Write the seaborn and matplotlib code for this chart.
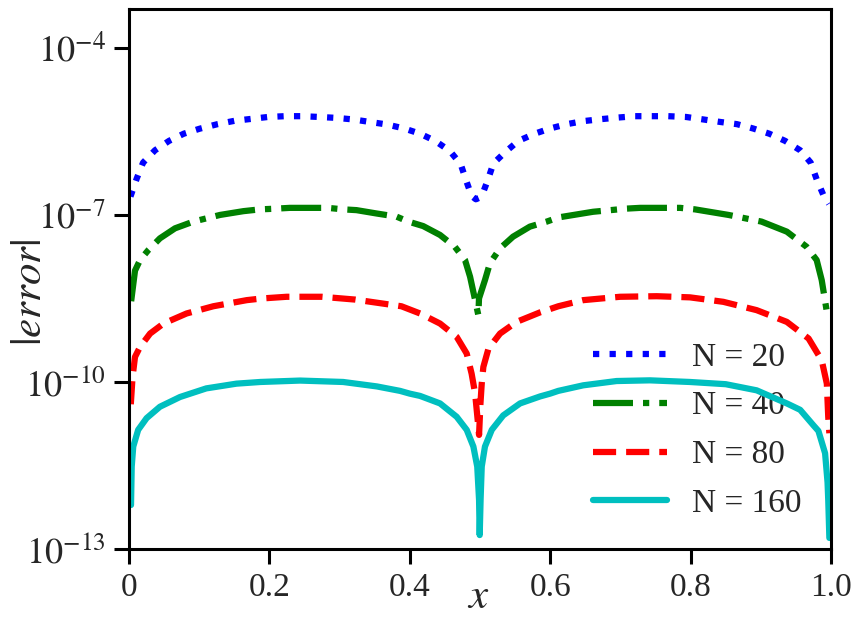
import matplotlib
matplotlib.use("Agg")
import matplotlib.pyplot as plt
import matplotlib.ticker as mticker
import seaborn as sns

# ---- data (x, |error|) ----
x_n20 = [0.002, 0.011, 0.020, 0.037, 0.057, 0.078, 0.101, 0.126, 0.150, 0.174, 0.198,
         0.222, 0.246, 0.271, 0.296, 0.3195, 0.343, 0.367, 0.392, 0.4145, 0.436, 0.457,
         0.4725, 0.480, 0.488, 0.494, 0.502, 0.511, 0.519, 0.536, 0.5546, 0.578, 0.5997,
         0.6235, 0.647, 0.672, 0.697, 0.721, 0.7446, 0.768, 0.7935, 0.818, 0.842, 0.866,
         0.889, 0.912, 0.9345, 0.956, 0.971, 0.9795, 0.989, 0.997]
err_n20 = [2.14e-7, 4.52e-7, 8.71e-7, 1.45e-6, 2.14e-6, 2.88e-6, 3.55e-6, 4.27e-6, 4.90e-6,
           5.31e-6, 5.75e-6, 5.94e-6, 5.94e-6, 5.75e-6, 5.53e-6, 5.19e-6, 4.68e-6, 4.22e-6,
           3.57e-6, 2.88e-6, 2.14e-6, 1.41e-6, 8.13e-7, 4.22e-7, 2.19e-7, 1.91e-7, 2.11e-7,
           4.22e-7, 8.41e-7, 1.35e-6, 2.14e-6, 2.88e-6, 3.57e-6, 4.27e-6, 4.84e-6, 5.25e-6,
           5.62e-6, 5.94e-6, 5.94e-6, 5.94e-6, 5.75e-6, 5.19e-6, 4.68e-6, 4.27e-6, 3.57e-6,
           2.88e-6, 2.14e-6, 1.45e-6, 8.71e-7, 4.37e-7, 2.29e-7, 1.58e-7]

x_n40 = [0.003, 0.0085, 0.0157, 0.0275, 0.044, 0.0655, 0.0916, 0.1296, 0.163, 0.1866,
         0.2056, 0.229, 0.283, 0.305, 0.324, 0.353, 0.381, 0.398, 0.419, 0.443, 0.464,
         0.4786, 0.4858, 0.493, 0.4976, 0.4985, 0.507, 0.514, 0.5285, 0.547, 0.571, 0.595,
         0.6116, 0.661, 0.709, 0.728, 0.785, 0.806, 0.854, 0.901, 0.937, 0.965, 0.9795,
         0.9867, 0.9945]
err_n40 = [2.82e-9, 1.0e-8, 1.55e-8, 2.34e-8, 3.80e-8, 5.75e-8, 7.59e-8, 1.0e-7, 1.17e-7,
           1.26e-7, 1.29e-7, 1.34e-7, 1.34e-7, 1.26e-7, 1.22e-7, 1.06e-7, 9.33e-8, 7.59e-8,
           6.31e-8, 4.37e-8, 2.69e-8, 1.55e-8, 7.76e-9, 2.95e-9, 1.58e-9, 3.16e-9, 6.76e-9,
           1.35e-8, 2.51e-8, 4.07e-8, 6.17e-8, 7.59e-8, 9.02e-8, 1.14e-7, 1.30e-7, 1.34e-7,
           1.34e-7, 1.26e-7, 1.0e-7, 7.59e-8, 5.01e-8, 2.69e-8, 1.55e-8, 6.76e-9, 1.66e-9]

x_n80 = [0.0025, 0.005, 0.0085, 0.0157, 0.03, 0.049, 0.082, 0.12, 0.1677, 0.189, 0.2246,
         0.2745, 0.322, 0.372, 0.388, 0.4145, 0.443, 0.4667, 0.481, 0.488, 0.493, 0.4966,
         0.4986, 0.5005, 0.5024, 0.5047, 0.512, 0.5285, 0.552, 0.5855, 0.5997, 0.6115,
         0.647, 0.6994, 0.7517, 0.799, 0.8466, 0.894, 0.937, 0.968, 0.9867, 0.994, 0.996,
         0.9976]
err_n80 = [3.98e-11, 1.23e-10, 2.82e-10, 4.27e-10, 7.41e-10, 1.12e-9, 1.70e-9, 2.29e-9,
           2.95e-9, 3.16e-9, 3.39e-9, 3.39e-9, 3.02e-9, 2.45e-9, 2.29e-9, 1.70e-9, 1.12e-9,
           6.46e-10, 3.24e-10, 1.41e-10, 6.17e-11, 2.09e-11, 1.12e-11, 3.98e-11, 9.33e-11,
           1.86e-10, 3.98e-10, 7.41e-10, 1.20e-9, 1.78e-9, 2.04e-9, 2.29e-9, 2.95e-9,
           3.39e-9, 3.47e-9, 3.31e-9, 2.75e-9, 1.95e-9, 1.20e-9, 6.03e-10, 2.45e-10,
           9.33e-11, 2.34e-11, 1.20e-11]

x_n160 = [0.0028, 0.0038, 0.006, 0.013, 0.025, 0.044, 0.0726, 0.11, 0.153, 0.187, 0.2436,
          0.305, 0.353, 0.386, 0.400, 0.4145, 0.443, 0.4667, 0.481, 0.4905, 0.496, 0.4986,
          0.4995, 0.5008, 0.5024, 0.507, 0.5167, 0.533, 0.557, 0.5855, 0.5997, 0.6115,
          0.647, 0.6945, 0.742, 0.799, 0.85, 0.894, 0.937, 0.956, 0.975, 0.982, 0.9915,
          0.995, 0.996, 0.9976]
err_n160 = [6.17e-13, 3.02e-12, 6.92e-12, 1.38e-11, 2.24e-11, 3.59e-11, 5.37e-11, 7.67e-11,
            9.33e-11, 1.0e-10, 1.06e-10, 1.0e-10, 8.32e-11, 6.92e-11, 6.17e-11, 5.62e-11,
            4.12e-11, 2.37e-11, 1.38e-11, 6.92e-12, 3.02e-12, 7.59e-13, 1.78e-13, 7.94e-13,
            3.02e-12, 6.92e-12, 1.38e-11, 2.51e-11, 4.12e-11, 5.50e-11, 6.17e-11, 6.92e-11,
            8.71e-11, 1.04e-10, 1.07e-10, 1.0e-10, 9.12e-11, 7.08e-11, 4.12e-11, 3.16e-11,
            1.66e-11, 1.32e-11, 5.25e-12, 1.58e-12, 7.59e-13, 1.58e-13]

labels = ["N = 20", "N = 40", "N = 80", "N = 160"]
xtick_vals = [0, 0.2, 0.4, 0.6, 0.8, 1.0]
xtick_labels = ["0", "0.2", "0.4", "0.6", "0.8", "1.0"]
ytick_vals = [1e-13, 1e-10, 1e-7, 1e-4]
ytick_labels = ["$10^{-13}$", "$10^{-10}$", "$10^{-7}$", "$10^{-4}$"]

# ---- style ----
sns.set_style("ticks")
plt.rcParams["font.family"] = ["Liberation Serif", "DejaVu Serif"]
plt.rcParams["mathtext.fontset"] = "stix"

fig = plt.figure(figsize=(8.62, 6.2), dpi=100)
ax = fig.add_axes([0.1497, 0.1145, 0.8144, 0.871])

lw = 4.5
series = [
    (x_n20, err_n20, "#0000ff", ":", labels[0]),
    (x_n40, err_n40, "#008000", "-.", labels[1]),
    (x_n80, err_n80, "#ff0000", "--", labels[2]),
    (x_n160, err_n160, "#00bfbf", "-", labels[3]),
]
for xs, ys, c, ls, lab in series:
    sns.lineplot(x=xs, y=ys, ax=ax, color=c, linestyle=ls, linewidth=lw,
                 label=lab, sort=False, estimator=None)

ax.set_yscale("log")
ax.set_xlim(0, 1)
ax.set_ylim(1e-13, 5e-4)
ax.set_yticks(ytick_vals)
ax.set_yticklabels(ytick_labels)
ax.yaxis.set_minor_locator(mticker.NullLocator())
ax.set_xticks(xtick_vals)
ax.set_xticklabels(xtick_labels)

for s in ax.spines.values():
    s.set_linewidth(2.2)
    s.set_color("black")
ax.tick_params(axis="both", which="major", direction="out", length=11, width=2.2,
               color="black", pad=6)
ax.tick_params(axis="x", labelsize=24)
ax.tick_params(axis="y", labelsize=26)

ax.set_xlabel("$x$", fontsize=31)
ax.xaxis.set_label_coords(0.497, -0.055)
ax.set_ylabel("$|error|$", fontsize=31)
ax.yaxis.set_label_coords(-0.112, 0.476)

leg = ax.legend(loc="lower right", frameon=False, fontsize=24, handlelength=2.2,
                labelspacing=0.55, handletextpad=0.75)
leg.set_zorder(1)

fig.savefig("out.png", dpi=100)
